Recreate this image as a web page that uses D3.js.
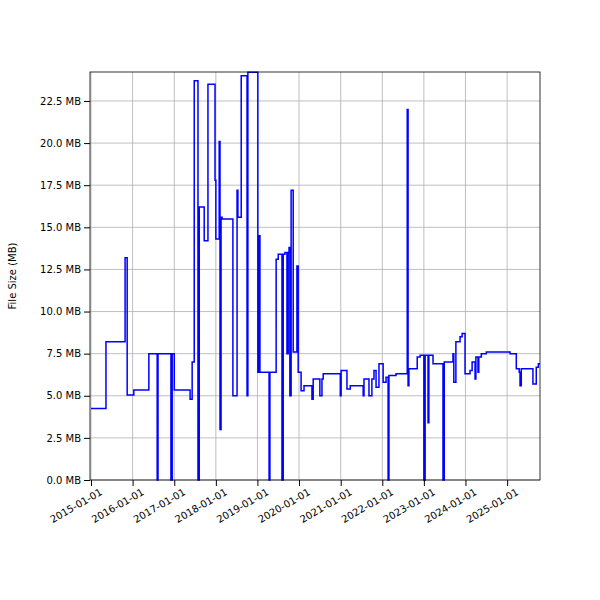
<!DOCTYPE html><html><head><script src="https://cdn.jsdelivr.net/npm/d3@7"></script>
<style>body{margin:0}text{font-family:"DejaVu Sans",sans-serif}</style></head><body><svg width="600" height="600"></svg><script>
// [decimal year, MB]
const times=[2015.00,2015.36,2015.82,2015.87,2016.03,2016.39,2016.59,2016.61,2016.92,2016.95,2017.00,2017.38,2017.43,2017.48,2017.57,2017.60,2017.62,2017.72,2017.81,2017.98,2018.00,2018.03,2018.08,2018.10,2018.125,2018.15,2018.41,2018.51,2018.53,2018.61,2018.75,2018.77,2018.89,2019.01,2019.04,2019.06,2019.25,2019.28,2019.30,2019.45,2019.50,2019.59,2019.62,2019.66,2019.71,2019.74,2019.76,2019.78,2019.81,2019.86,2019.93,2019.95,2019.98,2020.05,2020.12,2020.31,2020.34,2020.50,2020.55,2020.58,2020.99,2021.01,2021.15,2021.23,2021.54,2021.56,2021.59,2021.68,2021.75,2021.80,2021.85,2021.92,2022.02,2022.09,2022.14,2022.16,2022.21,2022.33,2022.43,2022.60,2022.62,2022.64,2022.81,2022.84,2022.91,2023.00,2023.03,2023.10,2023.12,2023.22,2023.41,2023.46,2023.49,2023.70,2023.72,2023.77,2023.87,2023.92,2023.99,2024.11,2024.16,2024.23,2024.25,2024.30,2024.32,2024.35,2024.38,2024.50,2024.90,2025.07,2025.22,2025.29,2025.31,2025.34,2025.62,2025.70,2025.75,2025.79];
const sizes=[4.25,8.2,13.2,5.05,5.35,7.5,0,7.5,0,7.5,5.35,4.8,7.0,23.7,0,16.2,16.2,14.2,23.5,17.8,14.3,14.3,20.1,3.0,15.6,15.5,5.0,17.2,15.6,24.0,5.0,24.2,24.2,6.4,14.5,6.4,6.4,0,6.4,13.1,13.4,0,13.4,13.5,7.5,13.5,13.8,5.0,17.2,7.6,7.6,12.7,6.4,5.3,5.6,4.8,6.0,5.0,6.0,6.3,5.0,6.5,5.4,5.6,5.0,6.0,6.0,5.0,6.0,6.5,5.5,6.9,5.8,6.1,0,6.2,6.2,6.3,6.3,22.0,5.6,6.6,6.6,7.3,7.4,0,7.4,3.4,7.4,6.9,6.9,0,7.0,7.5,5.8,8.2,8.5,8.7,6.3,6.5,7.0,6.0,7.3,6.4,7.3,7.3,7.5,7.6,7.6,7.5,6.6,6.4,5.6,6.6,5.7,6.7,6.9,6.9];
const yTicks=[0,2.5,5,7.5,10,12.5,15,17.5,20,22.5];
const xTickYears=d3.range(2015,2026);
function toDate(t){const y=Math.floor(t);const s=new Date(y,0,1),e=new Date(y+1,0,1);return new Date(+s+(t-y)*(e-s));}
const data=times.map((t,i)=>({d:toDate(t),v:sizes[i]}));
const svg=d3.select("svg"),L=90,R=540,T=72,B=480;
const x=d3.scaleTime().domain([toDate(2014.976),toDate(2025.79)]).range([L,R]);
const y=d3.scaleLinear().domain([0,24.22]).range([B,T]);
const g=svg.append("g");
g.selectAll(".gx").data(xTickYears).join("line").attr("x1",d=>x(new Date(d,0,1))).attr("x2",d=>x(new Date(d,0,1))).attr("y1",T).attr("y2",B).attr("stroke","#b0b0b0").attr("stroke-width",0.8);
g.selectAll(".gy").data(yTicks).join("line").attr("y1",d=>y(d)).attr("y2",d=>y(d)).attr("x1",L).attr("x2",R).attr("stroke","#b0b0b0").attr("stroke-width",0.8);
svg.append("path").datum(data).attr("fill","none").attr("stroke","blue").attr("stroke-width",1.5)
 .attr("d",d3.line().x(d=>x(d.d)).y(d=>y(d.v)).curve(d3.curveStepAfter));
svg.append("rect").attr("x",L).attr("y",T).attr("width",R-L).attr("height",B-T).attr("fill","none").attr("stroke","black").attr("stroke-width",0.8);
const xa=svg.append("g").attr("transform",`translate(0,${B})`).call(d3.axisBottom(x).tickValues(xTickYears.map(d=>new Date(d,0,1))).tickFormat(d3.timeFormat("%Y-%m-%d")).tickSizeOuter(0));
xa.select(".domain").remove();
xa.selectAll("text").attr("font-size",10).attr("text-anchor","end").attr("dx","0.3em").attr("dy","0.9em").attr("transform","rotate(-30)").attr("fill","#000");
const ya=svg.append("g").attr("transform",`translate(${L},0)`).call(d3.axisLeft(y).tickValues(yTicks).tickFormat(d=>d.toFixed(1)+" MB").tickSizeOuter(0));
ya.select(".domain").remove();
ya.selectAll("text").attr("font-size",10).attr("fill","#000");
svg.append("text").attr("transform",`translate(16,${(T+B)/2}) rotate(-90)`).attr("text-anchor","middle").attr("font-size",10).text("File Size (MB)");
</script></body></html>
